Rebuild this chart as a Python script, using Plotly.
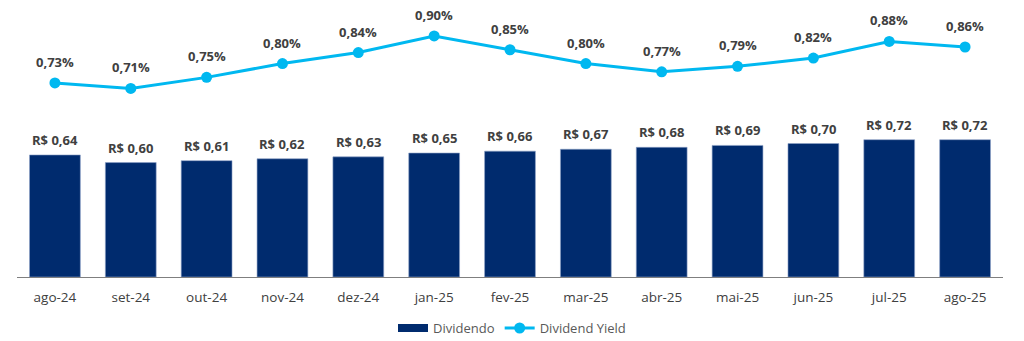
import plotly.graph_objects as go

months = ["ago-24", "set-24", "out-24", "nov-24", "dez-24", "jan-25", "fev-25",
          "mar-25", "abr-25", "mai-25", "jun-25", "jul-25", "ago-25"]
dividendo = [0.64, 0.60, 0.61, 0.62, 0.63, 0.65, 0.66, 0.67, 0.68, 0.69, 0.70, 0.72, 0.72]
dividend_yield = [0.73, 0.71, 0.75, 0.80, 0.84, 0.90, 0.85, 0.80, 0.77, 0.79, 0.82, 0.88, 0.86]

bar_text = ["R$ " + f"{v:.2f}".replace(".", ",") for v in dividendo]
line_text = [f"{v:.2f}".replace(".", ",") + "%" for v in dividend_yield]

FONT = "Open Sans"
TXT = "#404040"
NAVY = "#002B6E"
CYAN = "#00B8F0"

fig = go.Figure()
fig.add_trace(go.Bar(
    x=months, y=dividendo, name="Dividendo", showlegend=False,
    marker=dict(color=NAVY, line=dict(color="#8EA3C8", width=0.6)),
    width=0.67,
))
# legend entry for bars drawn as a wide rectangle
fig.add_trace(go.Scatter(
    x=[None], y=[None], name="Dividendo", mode="lines",
    line=dict(color=NAVY, width=8),
))
fig.add_trace(go.Scatter(
    x=months, y=dividend_yield, name="Dividend Yield", yaxis="y2",
    mode="lines+markers",
    line=dict(color=CYAN, width=3),
    marker=dict(color=CYAN, size=11),
    cliponaxis=False,
))

for m, v, t in zip(months, dividendo, bar_text):
    fig.add_annotation(x=m, y=v, xref="x", yref="y", text=t, showarrow=False,
                       yshift=15, font=dict(family=FONT, size=13, color=TXT, weight="bold"))
for m, v, t in zip(months, dividend_yield, line_text):
    fig.add_annotation(x=m, y=v, xref="x", yref="y2", text=t, showarrow=False,
                       yshift=21, font=dict(family=FONT, size=13, color=TXT, weight="bold"))

fig.update_layout(
    width=1024, height=341,
    margin=dict(l=17, r=21, t=10, b=64, autoexpand=False),
    paper_bgcolor="white", plot_bgcolor="white",
    font=dict(family=FONT, size=13, color=TXT),
    showlegend=True,
    legend=dict(orientation="h", x=0.5, xanchor="center", xref="container",
                y=0.038, yanchor="middle", yref="container",
                font=dict(family=FONT, size=13, color="#595959"),
                itemwidth=30, tracegroupgap=0),
    xaxis=dict(showline=True, linecolor="#7F7F7F", linewidth=1, ticks="",
               range=[-0.5, 12.5], automargin=False, ticklabelstandoff=8,
               showgrid=False, tickfont=dict(family=FONT, size=13.5, color=TXT)),
    yaxis=dict(range=[0, 1.40], visible=False, showgrid=False),
    yaxis2=dict(range=[0.027, 0.994], overlaying="y", visible=False, showgrid=False),
)

fig.write_html("out.html")
